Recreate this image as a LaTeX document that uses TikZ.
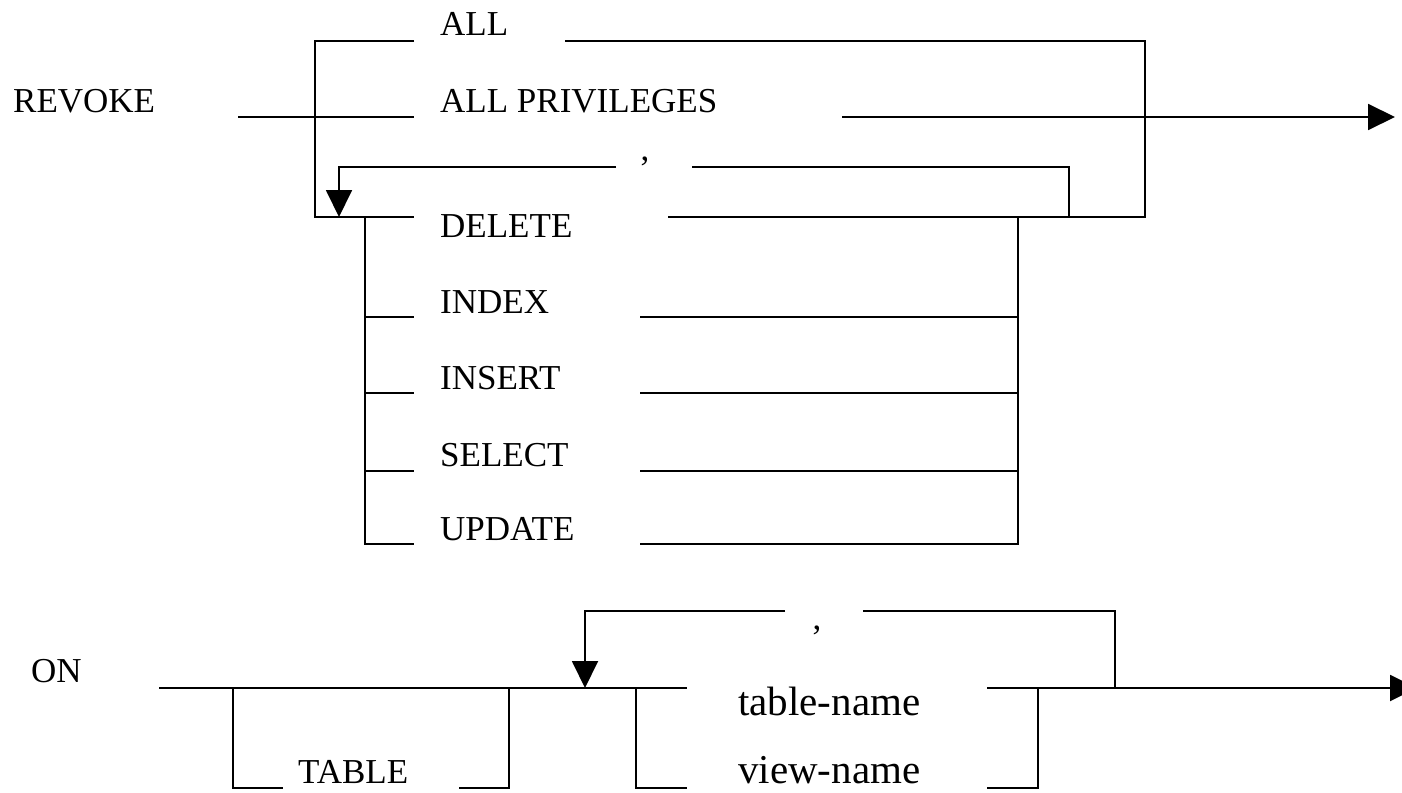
\documentclass[tikz,border=0pt]{standalone}
\usepackage{fontspec}
\setmainfont{Liberation Serif}
\usetikzlibrary{arrows.meta}
\begin{document}
\begin{tikzpicture}[x=1pt,y=-1pt,
  ln/.style={line width=1.9pt, line cap=butt, line join=miter},
  arr/.style={ln, -{Triangle[length=27pt,width=26pt]}},
  kw/.style={inner sep=0pt, anchor=base west, font=\fontsize{35}{40}\selectfont},
  nm/.style={inner sep=0pt, anchor=base west, font=\fontsize{41}{46}\selectfont},
  commalbl/.style={inner sep=0pt, anchor=base, font=\fontsize{35}{40}\selectfont}]
\useasboundingbox (0,0) rectangle (1402,792);
% ---------- texts ----------
\node[kw] (revoke) at (13,112) {REVOKE};
\node[kw] (all) at (440,36) {ALL};
\node[kw] (allpriv) at (440,112) {ALL PRIVILEGES};
\node[commalbl] (comma1) at (645,160) {,};
\node[kw] (delete) at (440,237) {DELETE};
\node[kw] (index) at (440,313) {INDEX};
\node[kw] (insert) at (440,389) {INSERT};
\node[kw] (select) at (440,466) {SELECT};
\node[kw] (update) at (440,540) {UPDATE};
\node[kw] (on) at (31,682) {ON};
\node[kw] (table) at (298,783) {TABLE};
\node[nm] (tname) at (738,715) {table-name};
\node[nm] (vname) at (738,783) {view-name};
\node[commalbl] (comma2) at (817,629) {,};
% ---------- coordinates: upper diagram ----------
\coordinate (r0) at (238,117);
\coordinate (r1) at (414,117);
\coordinate (a0) at (315,41);
\coordinate (a1) at (414,41);
\coordinate (a2) at (565,41);
\coordinate (a3) at (1145,41);
\coordinate (d0) at (315,217);
\coordinate (d1) at (414,217);
\coordinate (d2) at (668,217);
\coordinate (d3) at (1145,217);
\coordinate (p0) at (842,117);
\coordinate (p1) at (1395,117);
\coordinate (c0) at (1069,217);
\coordinate (c1) at (1069,167);
\coordinate (c2) at (692,167);
\coordinate (c3) at (616,167);
\coordinate (c4) at (339,167);
\coordinate (c5) at (339,217);
\coordinate (i0) at (365,217);
\coordinate (i1) at (365,544);
\coordinate (i2) at (414,544);
\coordinate (j0) at (1018,217);
\coordinate (j1) at (1018,544);
\coordinate (j2) at (640,544);
% ---------- upper connectors ----------
\draw[ln] (r0) -- (r1);
\draw[ln] (a1) -- (a0) -- (d0) -- (d1);
\draw[ln] (a2) -- (a3) -- (d3) -- (d2);
\draw[arr] (p0) -- (p1);
\draw[ln] (c0) -- (c1) -- (c2);
\draw[arr] (c3) -- (c4) -- (c5);
\draw[ln] (i0) -- (i1) -- (i2);
\draw[ln] (365,317) -- (414,317);
\draw[ln] (365,393) -- (414,393);
\draw[ln] (365,471) -- (414,471);
\draw[ln] (j0) -- (j1) -- (j2);
\draw[ln] (640,317) -- (1018,317);
\draw[ln] (640,393) -- (1018,393);
\draw[ln] (640,471) -- (1018,471);
% ---------- coordinates: lower diagram ----------
\coordinate (m0) at (159,688);
\coordinate (m1) at (687,688);
\coordinate (t0) at (233,688);
\coordinate (t1) at (233,788);
\coordinate (t2) at (283,788);
\coordinate (t3) at (459,788);
\coordinate (t4) at (509,788);
\coordinate (t5) at (509,688);
\coordinate (l0) at (785,611);
\coordinate (l1) at (585,611);
\coordinate (l2) at (585,688);
\coordinate (l3) at (863,611);
\coordinate (l4) at (1115,611);
\coordinate (l5) at (1115,688);
\coordinate (n0) at (636,688);
\coordinate (n1) at (636,788);
\coordinate (n2) at (687,788);
\coordinate (n3) at (987,788);
\coordinate (n4) at (1038,788);
\coordinate (n5) at (1038,688);
\coordinate (e0) at (987,688);
\coordinate (e1) at (1417,688);
% ---------- lower connectors ----------
\draw[ln] (m0) -- (m1);
\draw[ln] (t0) -- (t1) -- (t2);
\draw[ln] (t3) -- (t4) -- (t5);
\draw[arr] (l0) -- (l1) -- (l2);
\draw[ln] (l3) -- (l4) -- (l5);
\draw[ln] (n0) -- (n1) -- (n2);
\draw[ln] (n3) -- (n4) -- (n5);
\draw[arr] (e0) -- (e1);
\end{tikzpicture}
\end{document}
